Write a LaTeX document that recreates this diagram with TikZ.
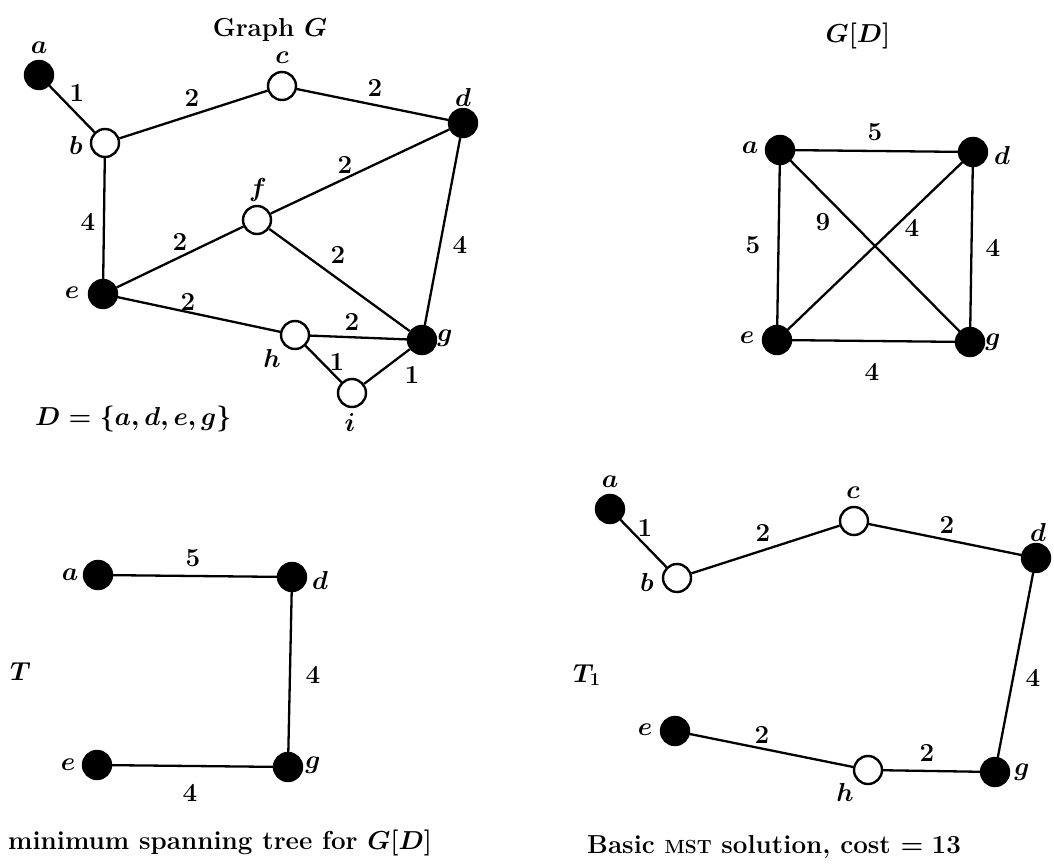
\RequirePackage{fix-cm}
\documentclass[tikz,border=0pt]{standalone}
\begin{document}
\begin{tikzpicture}[x=1pt,y=-1pt,
  every node/.style={font=\fontsize{26}{31}\selectfont\bfseries\boldmath},
  wv/.style={circle,draw=black,fill=white,line width=2.4pt,minimum size=28pt,inner sep=0pt},
  bv/.style={circle,draw=black,fill=black,line width=2.4pt,minimum size=28pt,inner sep=0pt},
  lab/.style={inner sep=0pt},
  ed/.style={line width=2.3pt}]
\useasboundingbox (0,0) rectangle (1054,867);

% ---------- Graph G ----------
\node[lab,anchor=base] (tG) at (270,37) {Graph $G$};
\node[bv] (Ga) at (39,75) {};
\node[wv] (Gb) at (105,143) {};
\node[wv] (Gc) at (282,86) {};
\node[bv] (Gd) at (463,123) {};
\node[wv] (Gf) at (257,220) {};
\node[bv] (Ge) at (103,294) {};
\node[wv] (Gh) at (295,335) {};
\node[bv] (Gg) at (422,340) {};
\node[wv] (Gi) at (352,393) {};
\node[lab] (lGa) at (39,48) {$a$};
\node[lab] (lGb) at (76,145) {$b$};
\node[lab] (lGc) at (282,58) {$c$};
\node[lab] (lGd) at (463,97) {$d$};
\node[lab] (lGf) at (258,190) {$f$};
\node[lab] (lGe) at (72,293) {$e$};
\node[lab] (lGh) at (272,358) {$h$};
\node[lab] (lGg) at (445,338) {$g$};
\node[lab] (lGi) at (350,422) {$i$};
\draw[ed] (Ga) -- (Gb);
\draw[ed] (Gb) -- (Gc);
\draw[ed] (Gc) -- (Gd);
\draw[ed] (Gb) -- (Ge);
\draw[ed] (Gf) -- (Gd);
\draw[ed] (Ge) -- (Gf);
\draw[ed] (Gf) -- (Gg);
\draw[ed] (Gd) -- (Gg);
\draw[ed] (Ge) -- (Gh);
\draw[ed] (Gh) -- (Gg);
\draw[ed] (Gh) -- (Gi);
\draw[ed] (Gi) -- (Gg);
\node[lab] (wab) at (77,93) {1};
\node[lab] (wbc) at (192,98) {2};
\node[lab] (wcd) at (375,88) {2};
\node[lab] (wbe) at (88,222) {4};
\node[lab] (wfd) at (345,165) {2};
\node[lab] (wef) at (180,242) {2};
\node[lab] (wfg) at (338,255) {2};
\node[lab] (wdg) at (460,245) {4};
\node[lab] (weh) at (188,302) {2};
\node[lab] (whg) at (352,322) {2};
\node[lab] (whi) at (337,362) {1};
\node[lab] (wig) at (412,375) {1};
\node[lab,anchor=base west] (Dset) at (35,425) {$D=\{a,d,e,g\}$};

% ---------- G[D] ----------
\node[lab,anchor=base] (tGD) at (858,43) {$G[D]$};
\node[bv] (Ka) at (780,150) {};
\node[bv] (Kd) at (973,152) {};
\node[bv] (Ke) at (777,340) {};
\node[bv] (Kg) at (970,342) {};
\node[lab] (lKa) at (750,148) {$a$};
\node[lab] (lKd) at (1002,155) {$d$};
\node[lab] (lKe) at (747,338) {$e$};
\node[lab] (lKg) at (993,342) {$g$};
\draw[ed] (Ka) -- (Kd);
\draw[ed] (Ka) -- (Ke);
\draw[ed] (Kd) -- (Kg);
\draw[ed] (Ke) -- (Kg);
\draw[ed] (Ka) -- (Kg);
\draw[ed] (Kd) -- (Ke);
\node[lab] (wKad) at (875,132) {5};
\node[lab] (wKae) at (753,245) {5};
\node[lab] (wKag) at (823,222) {9};
\node[lab] (wKde) at (912,228) {4};
\node[lab] (wKdg) at (993,248) {4};
\node[lab] (wKeg) at (872,372) {4};

% ---------- T ----------
\node[lab,anchor=base west] (tT) at (10,680) {$T$};
\node[bv] (Ta) at (98,575) {};
\node[bv] (Td) at (292,577) {};
\node[bv] (Te) at (97,765) {};
\node[bv] (Tg) at (288,767) {};
\node[lab] (lTa) at (70,575) {$a$};
\node[lab] (lTd) at (320,580) {$d$};
\node[lab] (lTe) at (68,765) {$e$};
\node[lab] (lTg) at (313,765) {$g$};
\draw[ed] (Ta) -- (Td);
\draw[ed] (Td) -- (Tg);
\draw[ed] (Te) -- (Tg);
\node[lab] (wTad) at (193,558) {5};
\node[lab] (wTdg) at (313,675) {4};
\node[lab] (wTeg) at (190,793) {4};
\node[lab,anchor=base west] (cT) at (8,849) {minimum spanning tree for $G[D]$};

% ---------- T1 ----------
\node[lab,anchor=base west] (tT1) at (573,682) {$T_1$};
\node[bv] (Sa) at (610,509) {};
\node[wv] (Sb) at (677,578) {};
\node[wv] (Sc) at (854,521) {};
\node[bv] (Sd) at (1036,558) {};
\node[bv] (Se) at (675,731) {};
\node[wv] (Sh) at (868,770) {};
\node[bv] (Sg) at (995,772) {};
\node[lab] (lSa) at (610,482) {$a$};
\node[lab] (lSb) at (647,582) {$b$};
\node[lab] (lSc) at (853,493) {$c$};
\node[lab] (lSd) at (1038,532) {$d$};
\node[lab] (lSe) at (645,730) {$e$};
\node[lab] (lSh) at (845,792) {$h$};
\node[lab] (lSg) at (1022,772) {$g$};
\draw[ed] (Sa) -- (Sb);
\draw[ed] (Sb) -- (Sc);
\draw[ed] (Sc) -- (Sd);
\draw[ed] (Sd) -- (Sg);
\draw[ed] (Se) -- (Sh);
\draw[ed] (Sh) -- (Sg);
\node[lab] (wSab) at (645,528) {1};
\node[lab] (wSbc) at (763,533) {2};
\node[lab] (wScd) at (947,525) {2};
\node[lab] (wSdg) at (1033,678) {4};
\node[lab] (wSeh) at (762,735) {2};
\node[lab] (wShg) at (927,753) {2};
\node[lab,anchor=base west] (cT1) at (587,853) {Basic {\fontsize{19}{21}\selectfont MST} solution, cost $=13$};
\end{tikzpicture}
\end{document}
